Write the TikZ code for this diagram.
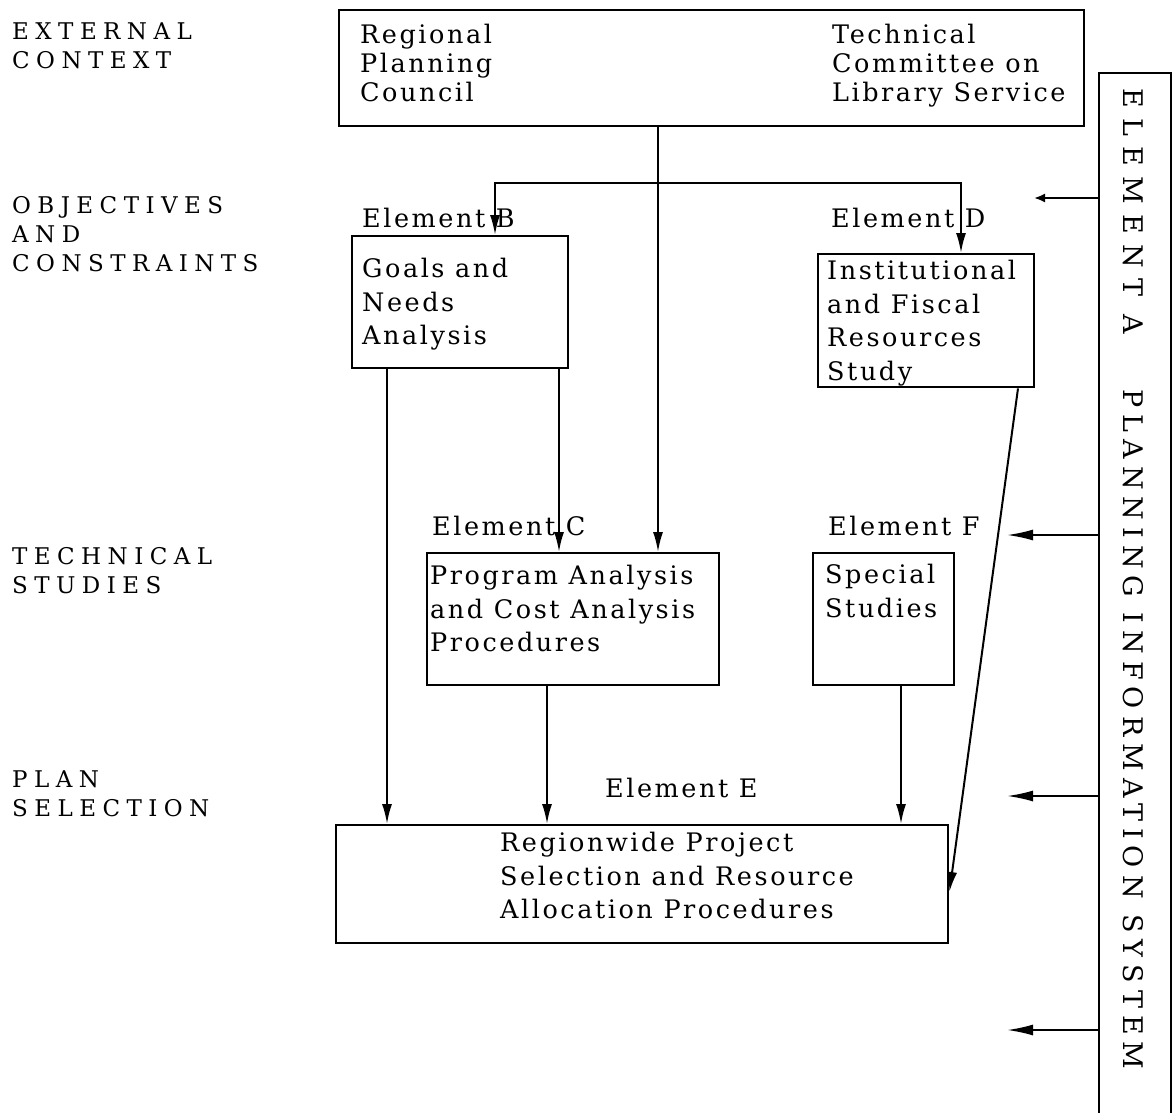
\documentclass[tikz,border=0pt]{standalone}
\usepackage{fontspec}
\setmainfont{DejaVu Serif}
\newfontfamily\boxfont[LetterSpace=10]{DejaVu Serif}
\newfontfamily\capfont[LetterSpace=28]{DejaVu Serif}
\newfontfamily\vertfontA[LetterSpace=38]{DejaVu Serif}
\newfontfamily\vertfontB[LetterSpace=26]{DejaVu Serif}
\usetikzlibrary{arrows.meta}
\begin{document}
\begin{tikzpicture}[x=1pt,y=-1pt,
  box/.style={draw, line width=2.4pt, rectangle, inner sep=0pt, anchor=north west},
  txt/.style={inner sep=0pt, align=left, anchor=north west, font=\boxfont\fontsize{25.5}{33.5}\selectfont},
  toptxt/.style={txt, font=\boxfont\fontsize{25.5}{29}\selectfont},
  lbl/.style={inner sep=0pt, anchor=base west, font=\boxfont\fontsize{25.5}{30}\selectfont},
  side/.style={inner sep=0pt, align=left, anchor=base west, font=\capfont\fontsize{23}{29}\selectfont},
  conn/.style={line width=2pt},
  arr/.style={conn, -{Latex[length=20pt,width=10pt]}},
  bigarr/.style={conn, -{Latex[length=26pt,width=11pt]}},
  smallarr/.style={conn, -{Latex[length=11pt,width=9pt]}},
]
\useasboundingbox (0,0) rectangle (1175,1112);

% left labels (anchored at the baseline of their last line)
\node[side] (lext) at (12,68) {EXTERNAL\\CONTEXT};
\node[side] (lobj) at (12,271) {OBJECTIVES\\AND\\CONSTRAINTS};
\node[side] (ltech) at (12,593) {TECHNICAL\\STUDIES};
\node[side] (lplan) at (12,816) {PLAN\\SELECTION};

% boxes
\node[box, minimum width=745pt, minimum height=116pt] (top) at (338,9) {};
\node[box, minimum width=216pt, minimum height=132pt] (goals) at (351,235) {};
\node[box, minimum width=216pt, minimum height=133pt] (inst) at (817,253) {};
\node[box, minimum width=292pt, minimum height=132pt] (prog) at (426,552) {};
\node[box, minimum width=141pt, minimum height=132pt] (spec) at (812,552) {};
\node[box, minimum width=612pt, minimum height=118pt] (region) at (335,824) {};
\node[box, minimum width=72pt, minimum height=1045pt] (sysbox) at (1098,72) {};

% box texts
\node[toptxt] (tRPC) at (360,24) {Regional\\Planning\\Council};
\node[toptxt] (tTC) at (832,24) {Technical\\Committee on\\Library Service};
\node[txt] (tgoals) at (362,258) {Goals and\\Needs\\Analysis};
\node[txt] (tinst) at (827,260) {Institutional\\and Fiscal\\Resources\\Study};
\node[txt] (tprog) at (430,565) {Program Analysis\\and Cost Analysis\\Procedures};
\node[txt] (tspec) at (825,564) {Special\\Studies};
\node[txt] (tregion) at (500,832) {Regionwide Project\\Selection and Resource\\Allocation Procedures};

% element labels
\node[lbl] (eB) at (362,227) {Element B};
\node[lbl] (eD) at (831,227) {Element D};
\node[lbl] (eC) at (432,535) {Element C};
\node[lbl] (eF) at (828,535) {Element F};
\node[lbl] (eE) at (605,797) {Element E};

% vertical text
\node[inner sep=0pt, rotate=-90, anchor=west, font=\fontsize{27}{27}\selectfont] (systxt) at (1133,88) {{\vertfontA ELEMENT A}\hspace{55pt}{\vertfontB PLANNING INFORMATION SYSTEM}};

% coordinates
\coordinate (busL) at (495,183);
\coordinate (busR) at (961,183);
\coordinate (xc) at (658,0);
\coordinate (x1) at (387,0);
\coordinate (x2) at (559,0);
\coordinate (x3) at (547,0);
\coordinate (x4) at (901,0);
\coordinate (s1) at (1018,0);
\coordinate (s2) at (0,892);
\coordinate (a1) at (1034,198);
\coordinate (a2) at (1007,535);
\coordinate (a3) at (1007,796);
\coordinate (a4) at (1007,1030);

% connectors
\draw[arr] (top.south -| xc) -- (prog.north -| xc);
\draw[conn, {Latex[length=20pt,width=10pt]}-{Latex[length=20pt,width=10pt]}] (goals.north -| busL) -- (busL) -- (busR) -- (inst.north -| busR);
\draw[arr] (goals.south -| x1) -- (region.north -| x1);
\draw[arr] (goals.south -| x2) -- (prog.north -| x2);
\draw[arr] (prog.south -| x3) -- (region.north -| x3);
\draw[arr] (spec.south -| x4) -- (region.north -| x4);
\draw[arr] (inst.south -| s1) -- (region.east |- s2);

\draw[smallarr] (sysbox.west |- a1) -- (a1);
\draw[bigarr] (sysbox.west |- a2) -- (a2);
\draw[bigarr] (sysbox.west |- a3) -- (a3);
\draw[bigarr] (sysbox.west |- a4) -- (a4);
\end{tikzpicture}
\end{document}
